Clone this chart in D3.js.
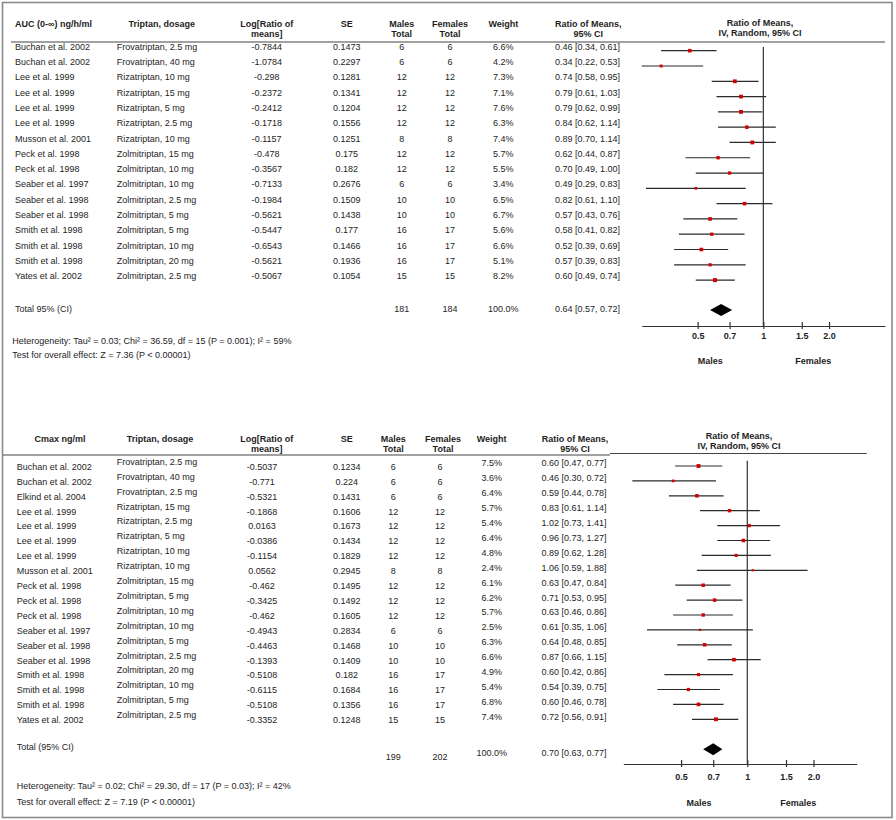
<!DOCTYPE html>
<html><head><meta charset="utf-8">
<script src="https://cdn.jsdelivr.net/npm/d3@7"></script>
<style>
body{margin:0;background:#fff}
svg text{font-family:"Liberation Sans",Arial,sans-serif;fill:#1e1e1e;font-size:9px}
</style>
</head><body>
<svg id="c" width="896" height="820"></svg>
<script>
// ---------- AUC panel data ----------
const aucStudies = ["Buchan et al. 2002","Buchan et al. 2002","Lee et al. 1999","Lee et al. 1999","Lee et al. 1999","Lee et al. 1999","Musson et al. 2001","Peck et al. 1998","Peck et al. 1998","Seaber et al. 1997","Seaber et al. 1998","Seaber et al. 1998","Smith et al. 1998","Smith et al. 1998","Smith et al. 1998","Yates  et al. 2002"];
const aucTriptans = ["Frovatriptan, 2.5 mg","Frovatriptan, 40 mg","Rizatriptan, 10 mg","Rizatriptan, 15 mg","Rizatriptan, 5 mg","Rizatriptan, 2.5 mg","Rizatriptan, 10 mg","Zolmitriptan, 15 mg","Zolmitriptan, 10 mg","Zolmitriptan, 10 mg","Zolmitriptan, 2.5 mg","Zolmitriptan, 5 mg","Zolmitriptan, 5 mg","Zolmitriptan, 10 mg","Zolmitriptan, 20 mg","Zolmitriptan, 2.5 mg"];
const aucLog = [-0.7844,-1.0784,-0.298,-0.2372,-0.2412,-0.1718,-0.1157,-0.478,-0.3567,-0.7133,-0.1984,-0.5621,-0.5447,-0.6543,-0.5621,-0.5067];
const aucSE = [0.1473,0.2297,0.1281,0.1341,0.1204,0.1556,0.1251,0.175,0.182,0.2676,0.1509,0.1438,0.177,0.1466,0.1936,0.1054];
const aucMales = [6,6,12,12,12,12,8,12,12,6,10,10,16,16,16,15];
const aucFemales = [6,6,12,12,12,12,8,12,12,6,10,10,17,17,17,15];
const aucWeight = [6.6,4.2,7.3,7.1,7.6,6.3,7.4,5.7,5.5,3.4,6.5,6.7,5.6,6.6,5.1,8.2];
const aucRatio = [0.46,0.34,0.74,0.79,0.79,0.84,0.89,0.62,0.70,0.49,0.82,0.57,0.58,0.52,0.57,0.60];
const aucLow = [0.34,0.22,0.58,0.61,0.62,0.62,0.70,0.44,0.49,0.29,0.61,0.43,0.41,0.39,0.39,0.49];
const aucHigh = [0.61,0.53,0.95,1.03,0.99,1.14,1.14,0.87,1.00,0.83,1.10,0.76,0.82,0.69,0.83,0.74];
const aucTotalN = [181,184];
const aucTotalEst = [0.64,0.57,0.72];
const aucHetero = ["Heterogeneity: Tau\u00b2 = 0.03; Chi\u00b2 = 36.59, df = 15 (P = 0.001); I\u00b2 = 59%","Test for overall effect: Z = 7.36 (P < 0.00001)"];

// ---------- Cmax panel data ----------
const cmaxStudies = ["Buchan et al. 2002","Buchan et al. 2002","Elkind et al. 2004","Lee et al. 1999","Lee et al. 1999","Lee et al. 1999","Lee et al. 1999","Musson et al. 2001","Peck et al. 1998","Peck et al. 1998","Peck et al. 1998","Seaber et al. 1997","Seaber et al. 1998","Seaber et al. 1998","Smith et al. 1998","Smith et al. 1998","Smith et al. 1998","Yates  et al. 2002"];
const cmaxTriptans = ["Frovatriptan, 2.5 mg","Frovatriptan, 40 mg","Frovatriptan, 2.5 mg","Rizatriptan, 15 mg","Rizatriptan, 2.5 mg","Rizatriptan, 5 mg","Rizatriptan, 10 mg","Rizatriptan, 10 mg","Zolmitriptan, 15 mg","Zolmitriptan, 5 mg","Zolmitriptan, 10 mg","Zolmitriptan, 10 mg","Zolmitriptan, 5 mg","Zolmitriptan, 2.5 mg","Zolmitriptan, 20 mg","Zolmitriptan, 10 mg","Zolmitriptan, 5 mg","Zolmitriptan, 2.5 mg"];
const cmaxLog = [-0.5037,-0.771,-0.5321,-0.1868,0.0163,-0.0386,-0.1154,0.0562,-0.462,-0.3425,-0.462,-0.4943,-0.4463,-0.1393,-0.5108,-0.6115,-0.5108,-0.3352];
const cmaxSE = [0.1234,0.224,0.1431,0.1606,0.1673,0.1434,0.1829,0.2945,0.1495,0.1492,0.1605,0.2834,0.1468,0.1409,0.182,0.1684,0.1356,0.1248];
const cmaxMales = [6,6,6,12,12,12,12,8,12,12,12,6,10,10,16,16,16,15];
const cmaxFemales = [6,6,6,12,12,12,12,8,12,12,12,6,10,10,17,17,17,15];
const cmaxWeight = [7.5,3.6,6.4,5.7,5.4,6.4,4.8,2.4,6.1,6.2,5.7,2.5,6.3,6.6,4.9,5.4,6.8,7.4];
const cmaxRatio = [0.60,0.46,0.59,0.83,1.02,0.96,0.89,1.06,0.63,0.71,0.63,0.61,0.64,0.87,0.60,0.54,0.60,0.72];
const cmaxLow = [0.47,0.30,0.44,0.61,0.73,0.73,0.62,0.59,0.47,0.53,0.46,0.35,0.48,0.66,0.42,0.39,0.46,0.56];
const cmaxHigh = [0.77,0.72,0.78,1.14,1.41,1.27,1.28,1.88,0.84,0.95,0.86,1.06,0.85,1.15,0.86,0.75,0.78,0.91];
const cmaxTotalN = [199,202];
const cmaxTotalEst = [0.70,0.63,0.77];
const cmaxHetero = ["Heterogeneity: Tau\u00b2 = 0.02; Chi\u00b2 = 29.30,  df = 17 (P = 0.03); I\u00b2 = 42%","Test for overall effect: Z = 7.19 (P < 0.00001)"];

// ---------- shared axis ----------
const tickValues = [0.5,0.7,1,1.5,2];
const tickLabels = ["0.5","0.7","1","1.5","2.0"];
const sideLabels = ["Males","Females"];

const svg = d3.select("#c");
svg.append("rect").attr("x",2.5).attr("y",2.5).attr("width",889.5).attr("height",815)
  .attr("fill","none").attr("stroke","#8a8a8a").attr("stroke-width",1.6);

function fmt2(v){return v.toFixed(2);}

function panel(d, L){
  const g = svg.append("g");
  const n = d.study.length;
  const y = d3.scaleLinear().domain([0,n-1]).range([L.y0,L.y1]);
  const x = d3.scaleLog().domain(L.xDomain).range(L.xRange).clamp(true);

  // headers
  L.headers.forEach(h=>{
    h.lines.forEach((t,i)=>{
      g.append("text").attr("x",h.x).attr("y",h.y + i*L.headerLead).attr("dy","0.35em")
        .attr("text-anchor",h.anchor||"middle").attr("font-weight","bold").text(t);
    });
  });
  L.headerLines.forEach(s=>{
    g.append("line").attr("x1",s[0]).attr("x2",s[1]).attr("y1",s[2]).attr("y2",s[2])
      .attr("stroke","#444").attr("stroke-width",1.1);
  });

  // row texts
  const colVals = {
    study: i=>d.study[i], triptan: i=>d.triptan[i], log: i=>String(d.log[i]), se: i=>String(d.se[i]),
    males: i=>String(d.males[i]), females: i=>String(d.females[i]),
    weight: i=>d.weight[i].toFixed(1)+"%",
    ratio: i=>`${fmt2(d.ratio[i])} [${fmt2(d.low[i])}, ${fmt2(d.high[i])}]`
  };
  L.cols.forEach(c=>{
    g.selectAll(null).data(d3.range(n)).join("text")
      .attr("x",c.x).attr("y",i=>y(i)+c.dy).attr("dy","0.35em")
      .attr("text-anchor",c.anchor).text(colVals[c.key]);
  });

  // vertical line of no effect
  g.append("line").attr("x1",x(1)).attr("x2",x(1)).attr("y1",L.vTop).attr("y2",L.axisY)
    .attr("stroke","#333").attr("stroke-width",1.2);

  // CIs
  g.selectAll(null).data(d3.range(n)).join("line")
    .attr("x1",i=>x(d.low[i])).attr("x2",i=>x(d.high[i]))
    .attr("y1",i=>y(i)).attr("y2",i=>y(i)).attr("stroke","#2a2a2a").attr("stroke-width",1.2);
  g.selectAll(null).data(d3.range(n)).join("rect")
    .attr("x",i=>x(d.ratio[i]) - 0.7*Math.sqrt(d.weight[i]))
    .attr("y",i=>y(i) - 0.7*Math.sqrt(d.weight[i]))
    .attr("width",i=>1.4*Math.sqrt(d.weight[i])).attr("height",i=>1.4*Math.sqrt(d.weight[i]))
    .attr("fill","#d40000");

  // total row
  const ty = y(n-1) + L.totalGap;
  const [tm,tl,th] = d.totalEst;
  g.append("path").attr("d",`M${x(tl)},${ty}L${x(tm)},${ty-6}L${x(th)},${ty}L${x(tm)},${ty+6}Z`).attr("fill","#000");
  g.append("text").attr("x",L.totalLabel.x).attr("y",ty+L.totalLabel.dy).attr("dy","0.35em").text(L.totalLabel.text);
  g.append("text").attr("x",L.colX.males).attr("y",ty+L.totalNdy).attr("dy","0.35em").attr("text-anchor","middle").text(d.totalN[0]);
  g.append("text").attr("x",L.colX.females).attr("y",ty+L.totalNdy).attr("dy","0.35em").attr("text-anchor","middle").text(d.totalN[1]);
  g.append("text").attr("x",L.colX.weight).attr("y",ty+L.totalWdy).attr("dy","0.35em").attr("text-anchor","middle").text("100.0%");
  g.append("text").attr("x",L.colX.ratio).attr("y",ty+L.totalWdy).attr("dy","0.35em").attr("text-anchor","middle")
    .text(`${fmt2(tm)} [${fmt2(tl)}, ${fmt2(th)}]`);

  // axis
  const ax = g.append("g").attr("transform",`translate(0,${L.axisY})`)
    .call(d3.axisBottom(x).tickValues(tickValues).tickFormat((v,i)=>tickLabels[i]).tickSizeOuter(0).tickSizeInner(3));
  ax.select(".domain").attr("stroke","#333").attr("stroke-width",1.2);
  ax.selectAll(".tick line").attr("y1",-4).attr("y2",3).attr("stroke","#333").attr("stroke-width",1.2);
  ax.selectAll(".tick text").attr("y",L.tickLabelDy).attr("dy","0.35em")
    .attr("font-family","'Liberation Sans',Arial,sans-serif").attr("font-size",9).attr("font-weight","bold").attr("fill","#1e1e1e");

  g.append("text").attr("x",x(1)+L.sideDx[0]).attr("y",L.sideY).attr("dy","0.35em").attr("text-anchor","middle").attr("font-weight","bold").text(sideLabels[0]);
  g.append("text").attr("x",x(1)+L.sideDx[1]).attr("y",L.sideY).attr("dy","0.35em").attr("text-anchor","middle").attr("font-weight","bold").text(sideLabels[1]);

  d.hetero.forEach((t,i)=>{
    g.append("text").attr("x",L.heteroX).attr("y",L.heteroY[i]).attr("dy","0.35em").text(t);
  });
}

// ---------- AUC panel ----------
const colXA = {study:15,triptan:116.7,log:266.7,se:346.7,males:401.7,females:450,weight:503.3,ratio:587.5};
panel({study:aucStudies,triptan:aucTriptans,log:aucLog,se:aucSE,males:aucMales,females:aucFemales,
  weight:aucWeight,ratio:aucRatio,low:aucLow,high:aucHigh,totalN:aucTotalN,totalEst:aucTotalEst,hetero:aucHetero},
{
  y0:50.7, y1:280.1, xDomain:[0.277,3.61], xRange:[641.7,885], vTop:47, axisY:326,
  headerLead:10,
  headers:[
    {lines:["AUC (0-\u221e) ng/h/ml"],x:15,y:24.3,anchor:"start"},
    {lines:["Triptan, dosage"],x:161.7,y:24.3},
    {lines:["Log[Ratio of","means]"],x:266.7,y:24.3},
    {lines:["SE"],x:346.7,y:24.3},
    {lines:["Males","Total"],x:401.7,y:24.3},
    {lines:["Females","Total"],x:450,y:24.3},
    {lines:["Weight"],x:503.3,y:24.3},
    {lines:["Ratio of Means,","95% CI"],x:588.3,y:24.3},
    {lines:["Ratio of Means,","IV, Random, 95% CI"],x:760,y:23.3,lead:9}
  ],
  headerLines:[[11,885,42]],
  cols:[
    {key:"study",x:colXA.study,anchor:"start",dy:-4},
    {key:"triptan",x:colXA.triptan,anchor:"start",dy:-4},
    {key:"log",x:colXA.log,anchor:"middle",dy:-4},
    {key:"se",x:colXA.se,anchor:"middle",dy:-4},
    {key:"males",x:colXA.males,anchor:"middle",dy:-4},
    {key:"females",x:colXA.females,anchor:"middle",dy:-4},
    {key:"weight",x:colXA.weight,anchor:"middle",dy:-4},
    {key:"ratio",x:colXA.ratio,anchor:"middle",dy:-4}
  ],
  colX:colXA, totalGap:30, totalLabel:{x:15,dy:-1.7,text:"Total 95% (CI)"}, totalNdy:-1, totalWdy:-1,
  tickLabelDy:9.7, sideDx:[-53,50], sideY:360.7, heteroX:12.3, heteroY:[341,355]
});

// ---------- Cmax panel ----------
const colXB = {study:16.7,triptan:116.7,log:262,se:346.7,males:393.3,females:440,weight:491.7,ratio:574};
panel({study:cmaxStudies,triptan:cmaxTriptans,log:cmaxLog,se:cmaxSE,males:cmaxMales,females:cmaxFemales,
  weight:cmaxWeight,ratio:cmaxRatio,low:cmaxLow,high:cmaxHigh,totalN:cmaxTotalN,totalEst:cmaxTotalEst,hetero:cmaxHetero},
{
  y0:466, y1:719.3, xDomain:[0.273,3.144], xRange:[623.3,856.7], vTop:460.7, axisY:764,
  headerLead:10.3,
  headers:[
    {lines:["Cmax ng/ml"],x:60,y:439},
    {lines:["Triptan, dosage"],x:160,y:439},
    {lines:["Log[Ratio of","means]"],x:266.7,y:439},
    {lines:["SE"],x:346.7,y:439},
    {lines:["Males","Total"],x:393.3,y:439},
    {lines:["Females","Total"],x:443,y:439},
    {lines:["Weight"],x:491.7,y:439},
    {lines:["Ratio of Means,","95% CI"],x:575,y:439},
    {lines:["Ratio of Means,","IV, Random, 95% CI"],x:739,y:435.7}
  ],
  headerLines:[[3,610,455],[610,866.7,453.5]],
  cols:[
    {key:"study",x:colXB.study,anchor:"start",dy:0.7},
    {key:"triptan",x:colXB.triptan,anchor:"start",dy:-4.3},
    {key:"log",x:colXB.log,anchor:"middle",dy:0.7},
    {key:"se",x:colXB.se,anchor:"middle",dy:0.7},
    {key:"males",x:colXB.males,anchor:"middle",dy:0.7},
    {key:"females",x:colXB.females,anchor:"middle",dy:0.7},
    {key:"weight",x:colXB.weight,anchor:"middle",dy:-2.7},
    {key:"ratio",x:colXB.ratio,anchor:"middle",dy:-2.7}
  ],
  colX:colXB, totalGap:30, totalLabel:{x:16.7,dy:-2.6,text:"Total (95% CI)"}, totalNdy:7.4, totalWdy:3.4,
  tickLabelDy:13.3, sideDx:[-48.3,51], sideY:802.7, heteroX:16.7, heteroY:[785.7,801.7]
});
</script>
</body></html>
